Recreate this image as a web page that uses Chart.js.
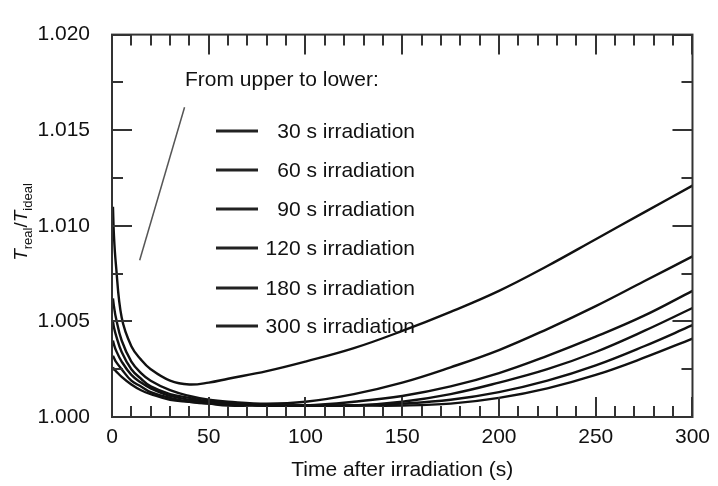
<!DOCTYPE html>
<html>
<head>
<meta charset="utf-8">
<script src="https://cdn.jsdelivr.net/npm/chart.js@4/dist/chart.umd.min.js"></script>
<style>
  html, body { margin: 0; padding: 0; background: #fff; }
  #wrap { width: 718px; height: 486px; }
</style>
</head>
<body>
<div id="wrap"><canvas id="chart" width="718" height="486"></canvas></div>
<script>
// time after irradiation (s)
const times = [0.5, 1, 2, 5, 10, 15, 20, 30, 40, 50, 60, 80, 100, 125, 150, 175, 200, 225, 250, 275, 300];

// T_real / T_ideal, one array per irradiation time
const irr30  = [1.0110, 1.0095, 1.0080, 1.0052, 1.0037, 1.0030, 1.0025, 1.0019, 1.0017, 1.0018, 1.0020, 1.0024, 1.0029, 1.0036, 1.0045, 1.0055, 1.0066, 1.0079, 1.0093, 1.0107, 1.0121];
const irr60  = [1.0062, 1.0058, 1.0052, 1.0040, 1.0029, 1.0023, 1.0019, 1.0014, 1.0011, 1.0009, 1.0008, 1.0007, 1.0008, 1.0012, 1.0018, 1.0026, 1.0035, 1.0046, 1.0058, 1.0071, 1.0084];
const irr90  = [1.0050, 1.0047, 1.0043, 1.0034, 1.0025, 1.0020, 1.0016, 1.0012, 1.0010, 1.0008, 1.0007, 1.0006, 1.0006, 1.0008, 1.0011, 1.0016, 1.0023, 1.0032, 1.0042, 1.0053, 1.0066];
const irr120 = [1.0040, 1.0038, 1.0035, 1.0029, 1.0022, 1.0018, 1.0015, 1.0011, 1.0009, 1.0008, 1.0007, 1.0006, 1.0006, 1.0006, 1.0008, 1.0012, 1.0018, 1.0025, 1.0034, 1.0045, 1.0057];
const irr180 = [1.0032, 1.0031, 1.0029, 1.0025, 1.0019, 1.0016, 1.0013, 1.0010, 1.0008, 1.0007, 1.0007, 1.0006, 1.0006, 1.0006, 1.0007, 1.0009, 1.0013, 1.0019, 1.0027, 1.0037, 1.0048];
const irr300 = [1.0026, 1.0025, 1.0024, 1.0021, 1.0017, 1.0014, 1.0012, 1.0009, 1.0008, 1.0007, 1.0006, 1.0006, 1.0006, 1.0006, 1.0006, 1.0007, 1.0010, 1.0015, 1.0022, 1.0031, 1.0041];

const seriesLabels = ['30 s irradiation', '60 s irradiation', '90 s irradiation',
                      '120 s irradiation', '180 s irradiation', '300 s irradiation'];
const seriesValues = [irr30, irr60, irr90, irr120, irr180, irr300];

// axes
const xTicks = [0, 50, 100, 150, 200, 250, 300];
const xTickLabels = ['0', '50', '100', '150', '200', '250', '300'];
const xMinorTicks = [10, 20, 30, 40, 60, 70, 80, 90, 110, 120, 130, 140, 160, 170, 180, 190, 210, 220, 230, 240, 260, 270, 280, 290];
const yTicks = [1.000, 1.005, 1.010, 1.015, 1.020];
const yTickLabels = ['1.000', '1.005', '1.010', '1.015', '1.020'];
const yMinorTicks = [1.0025, 1.0075, 1.0125, 1.0175];

const legendTitle = 'From upper to lower:';
const xTitle = 'Time after irradiation (s)';

const FONT = '"Liberation Sans", Arial, Helvetica, sans-serif';
const INK = '#111';

// frame, inward ticks, legend block, y title
const decorPlugin = {
  id: 'decor',
  afterDraw(chart) {
    const { ctx, chartArea: a, scales: { x, y } } = chart;
    ctx.save();

    // inward tick marks on all four sides
    ctx.strokeStyle = '#333';
    ctx.lineWidth = 2;
    ctx.beginPath();
    const xt = (list, len) => list.forEach(v => {
      const px = Math.round(x.getPixelForValue(v));
      ctx.moveTo(px, a.bottom); ctx.lineTo(px, a.bottom - len);
      ctx.moveTo(px, a.top); ctx.lineTo(px, a.top + len);
    });
    const yt = (list, len) => list.forEach(v => {
      const py = Math.round(y.getPixelForValue(v));
      ctx.moveTo(a.left, py); ctx.lineTo(a.left + len, py);
      ctx.moveTo(a.right, py); ctx.lineTo(a.right - len, py);
    });
    xt(xTicks, 20); xt(xMinorTicks, 11);
    yt(yTicks, 20); yt(yMinorTicks, 11);
    ctx.stroke();

    // frame
    ctx.lineWidth = 2;
    ctx.strokeRect(a.left, a.top, a.right - a.left, a.bottom - a.top);

    // leader line from the legend heading to the curves
    ctx.strokeStyle = '#555';
    ctx.lineWidth = 1.5;
    ctx.beginPath();
    ctx.moveTo(x.getPixelForValue(37.5), y.getPixelForValue(1.0162));
    ctx.lineTo(x.getPixelForValue(14.3), y.getPixelForValue(1.0082));
    ctx.stroke();

    // legend
    ctx.fillStyle = INK;
    ctx.font = '21px ' + FONT;
    ctx.textBaseline = 'middle';
    ctx.textAlign = 'left';
    ctx.fillText(legendTitle, 185, 80);
    ctx.textAlign = 'right';
    const rows = [131, 170, 209, 248, 288, 326];
    seriesLabels.forEach((lab, i) => {
      ctx.strokeStyle = '#222';
      ctx.lineWidth = 3;
      ctx.beginPath();
      ctx.moveTo(216, rows[i]); ctx.lineTo(258, rows[i]);
      ctx.stroke();
      ctx.fillText(lab, 415, rows[i] + 1);
    });

    // y axis title: T_real / T_ideal
    ctx.translate(20, 222);
    ctx.rotate(-Math.PI / 2);
    ctx.textAlign = 'left';
    ctx.textBaseline = 'alphabetic';
    const big = 'italic 19px ' + FONT, reg = '19px ' + FONT, sub = '13px ' + FONT;
    const parts = [['T', big, 0], ['real', sub, 5], ['/', reg, 0], ['T', big, 0], ['ideal', sub, 5]];
    let w = 0;
    parts.forEach(p => { ctx.font = p[1]; w += ctx.measureText(p[0]).width; });
    let cx = -w / 2;
    parts.forEach(p => {
      ctx.font = p[1];
      ctx.fillText(p[0], cx, 7 + p[2]);
      cx += ctx.measureText(p[0]).width;
    });

    ctx.restore();
  }
};

new Chart(document.getElementById('chart'), {
  type: 'line',
  data: {
    datasets: seriesValues.map((vals, i) => ({
      label: seriesLabels[i],
      data: times.map((t, j) => ({ x: t, y: vals[j] })),
      borderColor: '#111',
      borderWidth: 2.4,
      pointRadius: 0,
      fill: false,
      tension: 0.4
    }))
  },
  options: {
    responsive: false,
    animation: false,
    devicePixelRatio: 1,
    layout: { padding: { top: 20, right: 18, left: 0, bottom: 0 } },
    plugins: { legend: { display: false }, tooltip: { enabled: false } },
    scales: {
      x: {
        type: 'linear',
        min: 0,
        max: 300,
        grid: { display: false, drawTicks: false },
        border: { display: false },
        afterBuildTicks: s => { s.ticks = xTicks.map(v => ({ value: v })); },
        afterFit: s => { s.height = 69; },
        ticks: {
          padding: 8,
          maxRotation: 0,
          color: INK,
          font: { family: FONT, size: 21 },
          callback: (v, i) => xTickLabels[i]
        },
        title: {
          display: true,
          text: xTitle,
          color: INK,
          font: { family: FONT, size: 21 },
          padding: { top: 0, bottom: 3 }
        }
      },
      y: {
        min: 1.000,
        max: 1.020,
        grid: { display: false, drawTicks: false },
        border: { display: false },
        afterBuildTicks: s => { s.ticks = yTicks.map(v => ({ value: v })); },
        afterFit: s => { s.width = 112; },
        ticks: {
          padding: 22,
          color: INK,
          font: { family: FONT, size: 21 },
          callback: (v, i) => yTickLabels[i]
        }
      }
    }
  },
  plugins: [decorPlugin]
});
</script>
</body>
</html>
